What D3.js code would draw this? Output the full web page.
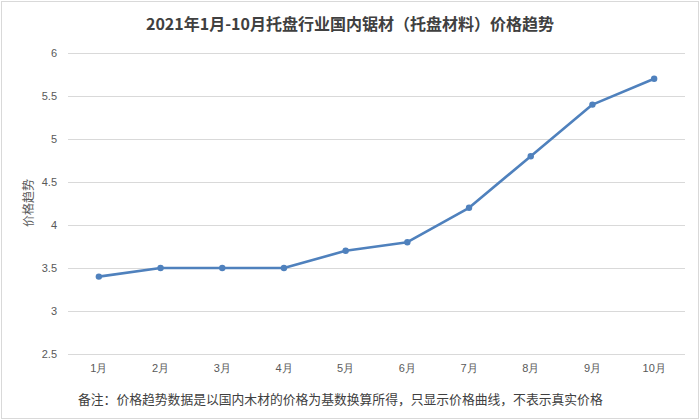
<!DOCTYPE html>
<html>
<head>
<meta charset="utf-8">
<script src="https://cdn.jsdelivr.net/npm/d3@7"></script>
<style>
  html, body { margin: 0; padding: 0; background: #fff; }
  svg { display: block; font-family: "Noto Sans CJK SC", "Noto Sans", sans-serif; }
</style>
</head>
<body>
<div id="chart"></div>
<script>
const months = ['1月', '2月', '3月', '4月', '5月', '6月', '7月', '8月', '9月', '10月'];
const prices = [3.4, 3.5, 3.5, 3.5, 3.7, 3.8, 4.2, 4.8, 5.4, 5.7];
const yTicks = [2.5, 3, 3.5, 4, 4.5, 5, 5.5, 6];

const title = '2021年1月-10月托盘行业国内锯材（托盘材料）价格趋势';
const yLabel = '价格趋势';
const note = '备注：价格趋势数据是以国内木材的价格为基数换算所得，只显示价格曲线，不表示真实价格';

const width = 700, height = 420;
const margin = { top: 53, right: 15, bottom: 66, left: 68 };

const svg = d3.select('#chart')
    .append('svg')
    .attr('width', width)
    .attr('height', height);

// outer border
svg.append('rect')
    .attr('x', 1.5)
    .attr('y', 1.5)
    .attr('width', width - 3)
    .attr('height', height - 3)
    .attr('fill', '#fff')
    .attr('stroke', '#d9d9d9');

const x = d3.scaleBand()
    .domain(months)
    .range([margin.left, width - margin.right]);

const y = d3.scaleLinear()
    .domain([2.5, 6])
    .range([height - margin.bottom, margin.top]);

// grid lines
svg.append('g')
    .selectAll('line')
    .data(yTicks)
    .enter()
    .append('line')
    .attr('x1', margin.left)
    .attr('x2', width - margin.right)
    .attr('y1', d => Math.round(y(d)) + 0.5)
    .attr('y2', d => Math.round(y(d)) + 0.5)
    .attr('stroke', '#d9d9d9')
    .attr('stroke-width', 1);

// y axis labels
const yAxis = svg.append('g')
    .attr('transform', `translate(${margin.left}, 0)`)
    .call(d3.axisLeft(y).tickValues(yTicks).tickSize(0).tickPadding(11).tickFormat(d3.format('')));
yAxis.select('.domain').remove();
yAxis.selectAll('text')
    .style('font-size', '11px')
    .style('fill', '#595959');

// x axis labels
const xAxis = svg.append('g')
    .attr('transform', `translate(0, ${height - margin.bottom})`)
    .call(d3.axisBottom(x).tickSize(0).tickPadding(10));
xAxis.select('.domain').remove();
xAxis.selectAll('text')
    .style('font-size', '11px')
    .style('fill', '#595959');

// line
const line = d3.line()
    .x(d => x(d.m) + x.bandwidth() / 2)
    .y(d => y(d.v));

const points = months.map((m, i) => ({ m: m, v: prices[i] }));

svg.append('path')
    .datum(points)
    .attr('d', line)
    .attr('fill', 'none')
    .attr('stroke', '#4f81bd')
    .attr('stroke-width', 2.6)
    .attr('stroke-linejoin', 'round');

svg.append('g')
    .selectAll('circle')
    .data(points)
    .enter()
    .append('circle')
    .attr('cx', d => x(d.m) + x.bandwidth() / 2)
    .attr('cy', d => y(d.v))
    .attr('r', 3.2)
    .attr('fill', '#4f81bd');

// title
svg.append('text')
    .attr('x', 350)
    .attr('y', 30)
    .attr('text-anchor', 'middle')
    .style('font-size', '16px')
    .style('font-weight', 'bold')
    .style('fill', '#404040')
    .text(title);

// y axis title
svg.append('text')
    .attr('transform', 'translate(33, 203) rotate(-90)')
    .attr('text-anchor', 'middle')
    .style('font-size', '12px')
    .style('fill', '#595959')
    .text(yLabel);

// footnote
svg.append('text')
    .attr('x', 78)
    .attr('y', 404)
    .style('font-size', '12.8px')
    .style('fill', '#404040')
    .text(note);
</script>
</body>
</html>
